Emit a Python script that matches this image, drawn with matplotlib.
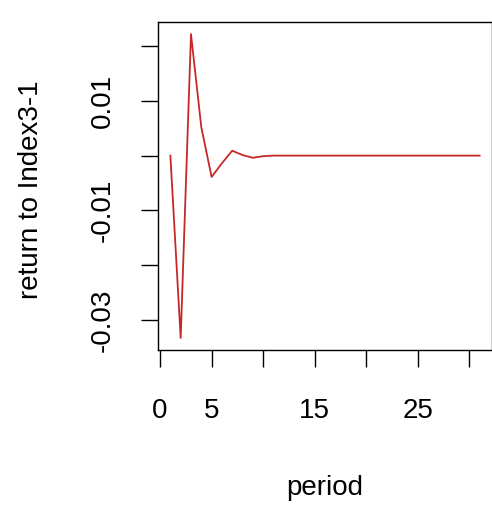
import numpy as np
import matplotlib.pyplot as plt

plt.rcParams['font.family'] = ['Liberation Sans', 'DejaVu Sans']

# impulse response values
period = np.arange(1, 32)
response = [0.0, -0.0333, 0.0222, 0.0052, -0.0039, -0.0014, 0.0009, 0.0001,
            -0.0004, -0.0001] + [0.0] * 21

xticks = [0, 5, 10, 15, 20, 25, 30]
xlabels = ['0', '5', '', '15', '', '25', '']
yticks = [-0.03, -0.02, -0.01, 0.0, 0.01, 0.02]
ylabels = ['-0.03', '', '-0.01', '', '0.01', '']

fig = plt.figure(figsize=(4.92, 5.07), dpi=100)
ax = fig.add_axes([158 / 492, 1 - 350 / 507, 334 / 492, 328 / 507])

ax.plot(period, response, color='#c62828', linewidth=1.3)

ax.set_xlim(-0.2, 32.2)
ax.set_ylim(-0.0355, 0.0244)

ax.set_xticks(xticks)
ax.set_xticklabels(xlabels)
ax.set_yticks(yticks)
ax.set_yticklabels(ylabels, rotation=90, va='center')

ax.tick_params(axis='both', length=12.2, width=1, direction='out',
               labelsize=20, colors='black')
ax.tick_params(axis='x', pad=22)
ax.tick_params(axis='y', pad=18)
for s in ax.spines.values():
    s.set_linewidth(1)

ax.set_xlabel('period', fontsize=20, labelpad=37)
ax.set_ylabel('return to Index3-1', fontsize=20)
ax.yaxis.set_label_coords(-0.34, 0.49)

fig.savefig('out.png', dpi=100)
